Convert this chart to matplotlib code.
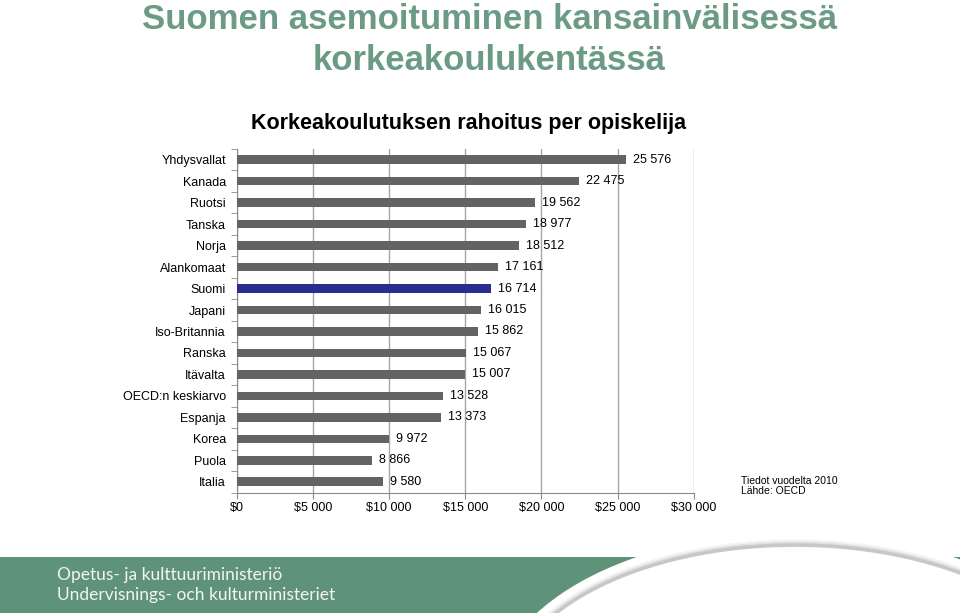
import numpy as np
import matplotlib
matplotlib.use("Agg")
import matplotlib.pyplot as plt
from matplotlib.patches import Rectangle, Ellipse
from matplotlib.ticker import FixedLocator

# -------------------------------
# Data
# -------------------------------
countries = ["Yhdysvallat", "Kanada", "Ruotsi", "Tanska", "Norja", "Alankomaat",
             "Suomi", "Japani", "Iso-Britannia", "Ranska", "Itävalta",
             "OECD:n keskiarvo", "Espanja", "Korea", "Puola", "Italia"]
funding = [25576, 22475, 19562, 18977, 18512, 17161,
           16714, 16015, 15862, 15067, 15007,
           13528, 13373, 9972, 8866, 9580]
highlight = "Suomi"
x_ticks = [0, 5000, 10000, 15000, 20000, 25000, 30000]

title = "Suomen asemoituminen kansainvälisessä\nkorkeakoulukentässä"
subtitle = "Korkeakoulutuksen rahoitus per opiskelija"
note = "Tiedot vuodelta 2010\nLähde: OECD"
ministry = "Opetus- ja kulttuuriministeriö\nUndervisnings- och kulturministeriet"

W, H = 960, 613
GREEN = "#5e937a"
TITLE_GREEN = "#6b9b85"
BAR = "#636363"
BLUE = "#2b2d8e"
GRID = "#a6a6a6"

plt.rcParams["font.family"] = ["Liberation Sans", "DejaVu Sans"]

fig = plt.figure(figsize=(W / 100, H / 100), dpi=100)

# -------------------------------
# Background band (pixel coords)
# -------------------------------
bg = fig.add_axes([0, 0, 1, 1], zorder=-1)
bg.set_xlim(0, W)
bg.set_ylim(H, 0)
bg.axis("off")
bg.add_patch(Rectangle((0, 557), W, H - 557, color=GREEN, lw=0))
cx, cy, a, b = 795, 702, 290, 157
bg.add_patch(Ellipse((cx, cy), 2 * a + 26, 2 * b + 26, facecolor="white", lw=0))
for lw, al in [(8, 0.12), (5, 0.25), (2.5, 0.45)]:
    bg.add_patch(Ellipse((cx, cy), 2 * a, 2 * b, facecolor="none",
                         edgecolor="#a9a9a9", lw=lw, alpha=al))
bg.add_patch(Ellipse((cx, cy), 2 * a - 4, 2 * b - 4, facecolor="white", lw=0))

bg.text(57, 585, ministry, color="#f4f4f4", fontsize=12.5,
        family=["Lato", "DejaVu Sans"], va="center", ha="left", linespacing=1.25)

# -------------------------------
# Titles and note
# -------------------------------
bg.text(489, 40, title, color=TITLE_GREEN, fontsize=25, fontweight="bold",
        ha="center", va="center", linespacing=1.27)
bg.text(469, 123, subtitle, color="black", fontsize=15.5, fontweight="bold",
        ha="center", va="center")
bg.text(741, 486, note, color="black", fontsize=7.5, ha="left", va="center",
        linespacing=1.1)

# -------------------------------
# Bar chart
# -------------------------------
ax = fig.add_axes([237 / W, 1 - 492.5 / H, (693.7 - 237) / W, (492.5 - 149) / H])
y = np.arange(len(countries))
colors = [BLUE if c == highlight else BAR for c in countries]
ax.barh(y, funding, height=0.4, color=colors, zorder=3)

for yi, v in zip(y, funding):
    ax.annotate(f"{v:,}".replace(",", " "), (v, yi), xytext=(5, 0),
                textcoords="offset points", va="center", ha="left",
                fontsize=9, zorder=4)

ax.set_xlim(0, 30000)
ax.set_ylim(len(countries) - 0.5, -0.5)
ax.set_xticks(x_ticks)
ax.set_xticklabels([f"${v:,}".replace(",", " ") for v in x_ticks], fontsize=9)
ax.set_yticks(y)
ax.set_yticklabels(countries, fontsize=9)
ax.yaxis.set_minor_locator(FixedLocator(np.arange(-0.5, len(countries), 1)))
ax.tick_params(axis="y", which="major", length=0, pad=8)
ax.tick_params(axis="y", which="minor", length=4, color="#8c8c8c")
ax.tick_params(axis="x", length=4, color="#8c8c8c", pad=3)

ax.grid(axis="x", color=GRID, lw=1, zorder=0)
for s in ["top", "right"]:
    ax.spines[s].set_visible(False)
for s in ["left", "bottom"]:
    ax.spines[s].set_color("#8c8c8c")
ax.set_facecolor("none")

fig.savefig("out.png", dpi=100)
